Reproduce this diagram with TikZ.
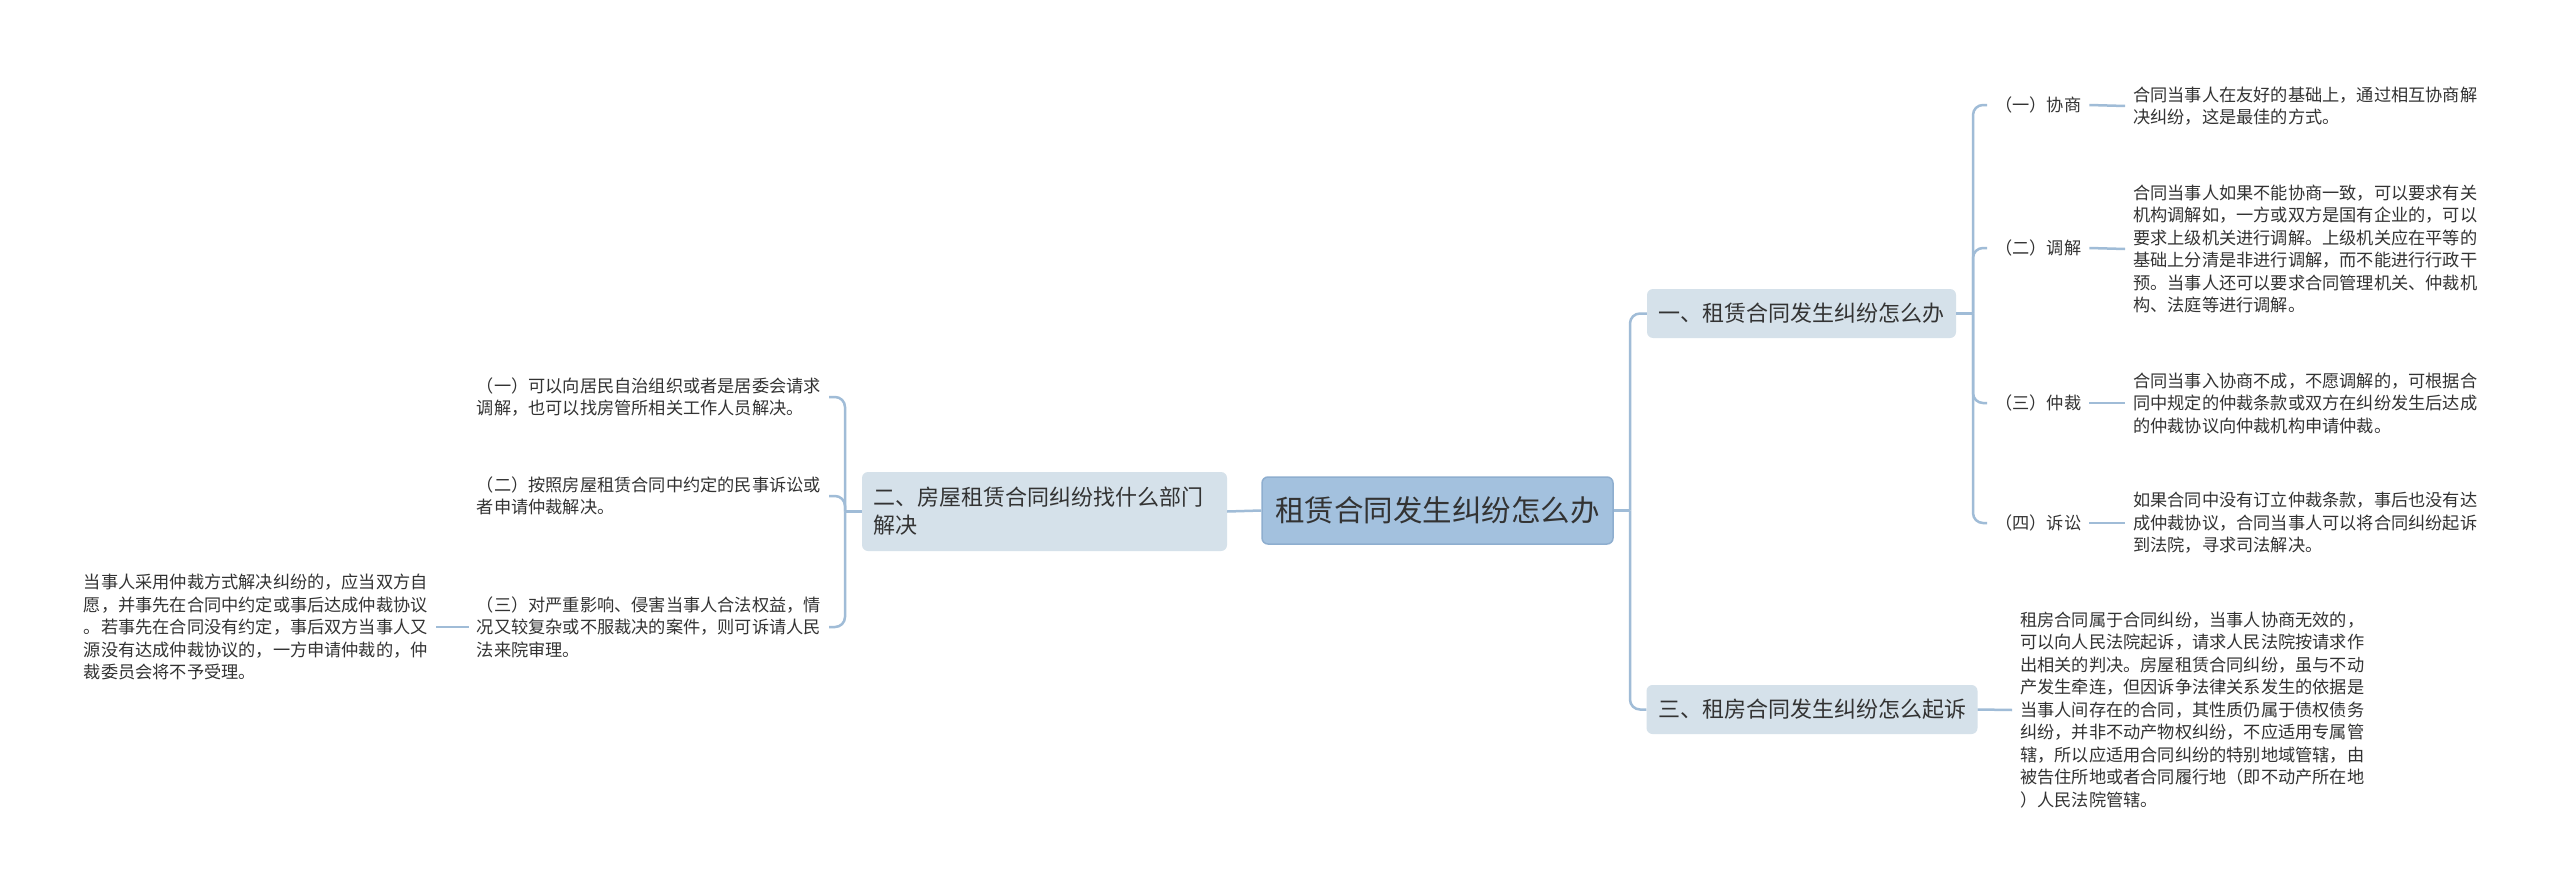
\documentclass[tikz,border=0pt]{standalone}
\usepackage{fontspec}
\setmainfont{Noto Sans CJK SC}
\usepackage{tikz}
\definecolor{rootfill}{HTML}{A3C1DE}
\definecolor{rootline}{HTML}{8EAECF}
\definecolor{topicfill}{HTML}{D5E1EA}
\definecolor{linkcol}{HTML}{A0BCD7}
\definecolor{txt}{HTML}{333333}

\begin{document}
\begin{tikzpicture}[x=1pt,y=-1pt,
  rootbox/.style={draw=rootline,line width=1.5pt,fill=rootfill,rounded corners=6pt,
    minimum width=351pt,minimum height=67pt,text=txt,font=\fontsize{29.5}{34}\selectfont},
  topic/.style={fill=topicfill,rounded corners=6pt,inner xsep=11.5pt,minimum height=49pt,
    text=txt,font=\fontsize{22}{28}\selectfont},
  tagbox/.style={anchor=west,inner xsep=8pt,text=txt,font=\fontsize{17.2}{22.5}\selectfont},
  leaf/.style={align=left,inner xsep=8pt,inner ysep=2pt,text=txt,font=\fontsize{17.2}{22.5}\selectfont},
  link/.style={draw=linkcol,line width=2.5pt,rounded corners=10pt}]
  \fill[white] (0,0) rectangle (2560,891);

  \node[rootbox] (root) at (1437.5,510.5) {租赁合同发生纠纷怎么办};
  \node[topic] (b1) at (1801.5,313.5) {一、租赁合同发生纠纷怎么办};
  \node[topic,text width=342pt,align=left,minimum height=79pt] (b2) at (1044.5,511.5)
    {二、房屋租赁合同纠纷找什么部门\\解决};
  \node[topic] (b3) at (1812,709.5) {三、租房合同发生纠纷怎么起诉};

  \coordinate (rj) at (1630,510.5);
  \coordinate (b1j) at (1973,313.5);
  \coordinate (b2j) at (845,511.5);

  \node[tagbox] (t1) at (1987,105) {（一）协商};
  \node[tagbox] (t2) at (1987,248) {（二）调解};
  \node[tagbox] (t3) at (1987,403) {（三）仲裁};
  \node[tagbox] (t4) at (1987,523) {（四）诉讼};

  \node[leaf,anchor=west] (x1) at (2125,106) {合同当事人在友好的基础上，通过相互协商解\\决纠纷，这是最佳的方式。};
  \node[leaf,anchor=west] (x2) at (2125,249) {合同当事人如果不能协商一致，可以要求有关\\机构调解如，一方或双方是国有企业的，可以\\要求上级机关进行调解。上级机关应在平等的\\基础上分清是非进行调解，而不能进行行政干\\预。当事人还可以要求合同管理机关、仲裁机\\构、法庭等进行调解。};
  \node[leaf,anchor=west] (x3) at (2125,403) {合同当事入协商不成，不愿调解的，可根据合\\同中规定的仲裁条款或双方在纠纷发生后达成\\的仲裁协议向仲裁机构申请仲裁。};
  \node[leaf,anchor=west] (x4) at (2125,523) {如果合同中没有订立仲裁条款，事后也没有达\\成仲裁协议，合同当事人可以将合同纠纷起诉\\到法院，寻求司法解决。};

  \node[leaf,anchor=west] (b3txt) at (2012,710) {租房合同属于合同纠纷，当事人协商无效的，\\可以向人民法院起诉，请求人民法院按请求作\\出相关的判决。房屋租赁合同纠纷，虽与不动\\产发生牵连，但因诉争法律关系发生的依据是\\当事人间存在的合同，其性质仍属于债权债务\\纠纷，并非不动产物权纠纷，不应适用专属管\\辖，所以应适用合同纠纷的特别地域管辖，由\\被告住所地或者合同履行地（即不动产所在地\\）人民法院管辖。};

  \node[leaf,anchor=east] (l1) at (829,397) {（一）可以向居民自治组织或者是居委会请求\\调解，也可以找房管所相关工作人员解决。};
  \node[leaf,anchor=east] (l2) at (829,496) {（二）按照房屋租赁合同中约定的民事诉讼或\\者申请仲裁解决。};
  \node[leaf,anchor=east] (l3) at (829,627) {（三）对严重影响、侵害当事人合法权益，情\\况又较复杂或不服裁决的案件，则可诉请人民\\法来院审理。};
  \node[leaf,anchor=east] (sub) at (436,627) {当事人采用仲裁方式解决纠纷的，应当双方自\\愿，并事先在合同中约定或事后达成仲裁协议\\。若事先在合同没有约定，事后双方当事人又\\源没有达成仲裁协议的，一方申请仲裁的，仲\\裁委员会将不予受理。};

  \draw[link] (root.east) -- (rj);
  \draw[link] (b1.west) -| (rj);
  \draw[link] (b3.west) -| (rj);
  \draw[link] (root.west) -- (b2.east);
  \draw[link] (b1.east) -- (b1j);
  \foreach \n in {t1,t2,t3,t4} \draw[link] (\n.west) -| (b1j);
  \draw[link] (t1.east) -- (x1.west);
  \draw[link] (t2.east) -- (x2.west);
  \draw[link] (t3.east) -- (x3.west);
  \draw[link] (t4.east) -- (x4.west);
  \draw[link] (b3.east) -- (b3txt.west);
  \draw[link] (b2.west) -- (b2j);
  \foreach \n in {l1,l2,l3} \draw[link] (\n.east) -| (b2j);
  \draw[link] (l3.west) -- (sub.east);
\end{tikzpicture}
\end{document}
